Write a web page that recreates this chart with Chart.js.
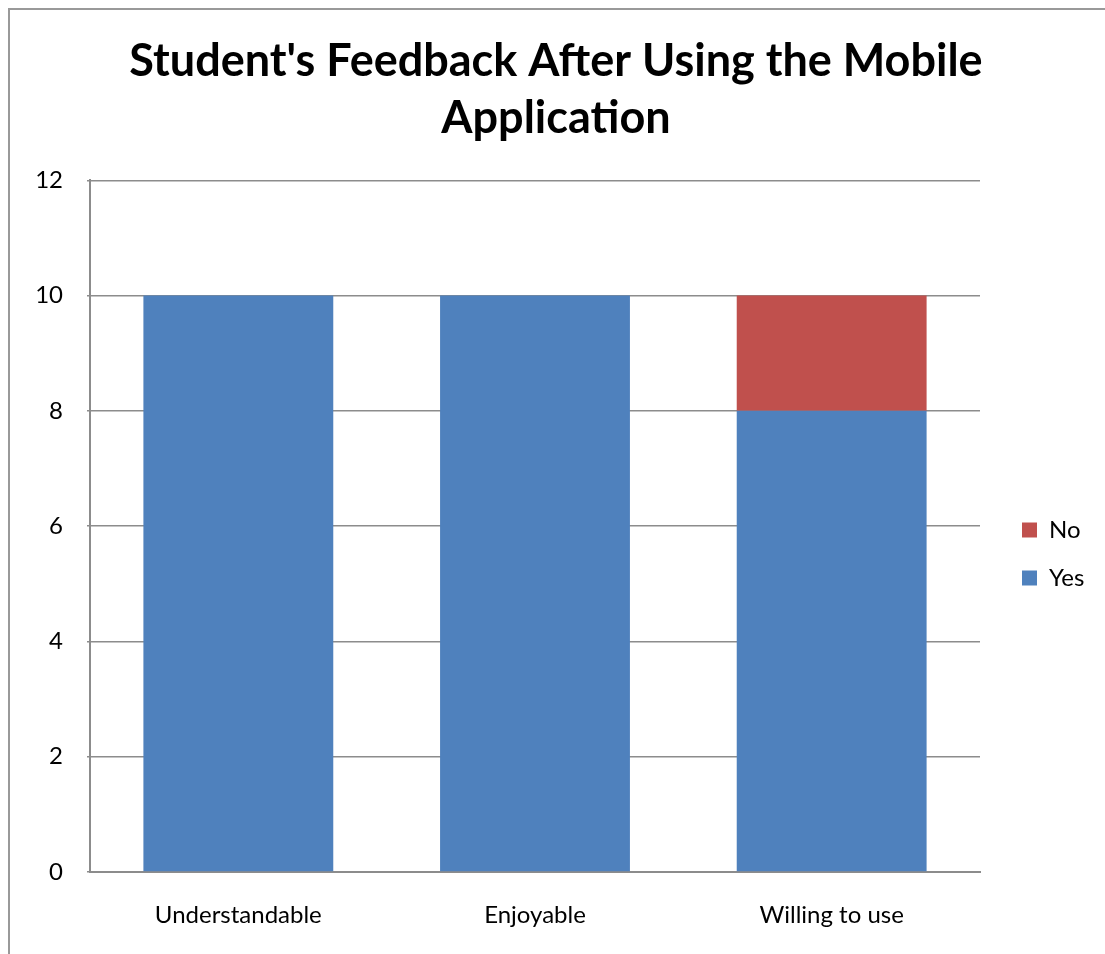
<!DOCTYPE html>
<html><head><meta charset="utf-8">
<script src="https://cdn.jsdelivr.net/npm/chart.js@4"></script>
<style>
html,body{margin:0;padding:0;background:#fff;overflow:hidden;}
#frame{position:absolute;left:8px;top:8px;width:1200px;height:1000px;border-left:2px solid #999;border-top:2px solid #999;}
#wrap{position:absolute;left:0;top:0;width:1105px;height:954px;}
</style></head>
<body>
<div id="frame"></div>
<div id="wrap"><canvas id="c" width="1105" height="954"></canvas></div>
<script>
const categories = ["Understandable", "Enjoyable", "Willing to use"];
const yesValues = [10, 10, 8];
const noValues = [0, 0, 2];
const yTicks = [0, 2, 4, 6, 8, 10, 12];
const titleLines = ["Student's Feedback After Using the Mobile", "Application"];

const FONT = "Lato, 'Open Sans', sans-serif";
const LEGEND_W = 125, LEGEND_BOX_X = 1022, LEGEND_DY = 77;

const legendPlacer = {
  id: 'legendPlacer',
  beforeUpdate(chart) {
    const L = chart.legend;
    if (L && !L._patched) {
      const orig = L.fit;
      L.fit = function () { orig.call(this); this.width = LEGEND_W; };
      L._patched = true;
    }
  },
  afterLayout(chart) {
    const L = chart.legend;
    if (!L) return;
    const pad = L.options.labels.padding;
    const w = L.width;
    L.left = LEGEND_BOX_X - pad; L.right = L.left + w;
    L.top += LEGEND_DY; L.bottom += LEGEND_DY;
  }
};

const ctx = document.getElementById('c').getContext('2d');
new Chart(ctx, {
  type: 'bar',
  data: {
    labels: categories,
    datasets: [
      { label: 'Yes', data: yesValues, backgroundColor: '#4F81BD', borderWidth: 0 },
      { label: 'No', data: noValues, backgroundColor: '#C0504D', borderWidth: 0 }
    ]
  },
  plugins: [legendPlacer],
  options: {
    responsive: false,
    animation: false,
    layout: { padding: { left: 7, right: 0, top: 0, bottom: 0 } },
    datasets: { bar: { categoryPercentage: 1, barPercentage: 0.64 } },
    plugins: {
      tooltip: { enabled: false },
      title: {
        display: true,
        text: titleLines,
        color: '#000',
        font: { family: FONT, size: 45, weight: 'bold', lineHeight: 1.27 },
        padding: { top: 33, bottom: 33 }
      },
      legend: {
        position: 'right',
        reverse: true,
        labels: {
          color: '#000',
          boxWidth: 15,
          boxHeight: 15,
          padding: 24,
          font: { family: FONT, size: 24 }
        }
      }
    },
    scales: {
      x: {
        stacked: true,
        grid: { display: false, drawTicks: false },
        border: { display: true, color: '#8c8c8c', width: 2 },
        ticks: { color: '#000', font: { family: FONT, size: 24 }, padding: 29 },
        afterFit: s => { s.height = 82; }
      },
      y: {
        stacked: true,
        min: 0, max: 12,
        afterBuildTicks: s => { s.ticks = yTicks.map(v => ({ value: v })); },
        grid: { color: '#8c8c8c', lineWidth: 1.5, tickLength: 3 },
        border: { display: true, color: '#8c8c8c', width: 2 },
        ticks: { color: '#000', font: { family: FONT, size: 24 }, padding: 24 },
        afterFit: s => { s.width = 83; }
      }
    }
  }
});
</script>
</body></html>
